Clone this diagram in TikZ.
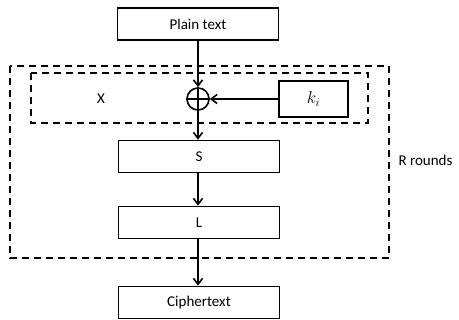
\documentclass[tikz,border=0pt]{standalone}
\usepackage{fontspec}
\setmainfont{Carlito}
\usetikzlibrary{arrows.meta}
\begin{document}
\begin{tikzpicture}[x=1pt,y=-1pt,
  blk/.style={draw,line width=1.6pt,minimum width=161pt,minimum height=32pt,inner sep=0pt,font=\fontsize{15}{18}\selectfont},
  dbox/.style={draw,line width=1.6pt,dash pattern=on 7pt off 5pt},
  arr/.style={line width=1.6pt,-{Straight Barb[length=6pt,width=9pt]}},
  lbl/.style={font=\fontsize{15}{18}\selectfont}]
\useasboundingbox (0,0) rectangle (459,320);
\node[blk] (pt) at (198,24) {Plain text};
\draw[dbox] (10,66) rectangle (389,258);
\draw[dbox] (31,73) rectangle (368,123);
\node[lbl] (x) at (101,99) {X};
\node[draw,circle,line width=1.6pt,minimum size=22pt,inner sep=0pt] (xor) at (198,99) {};
\draw[line width=1.6pt] (xor.north) -- (xor.south) (xor.west) -- (xor.east);
\node[blk,minimum width=69pt,minimum height=36pt,font=\fontsize{18}{20}\selectfont] (k) at (313.5,99) {$k_i$};
\node[blk] (s) at (199,156.5) {S};
\node[blk] (l) at (199,222.5) {L};
\node[blk] (c) at (199,302.5) {Ciphertext};
\node[lbl,anchor=west] (r) at (395,160) {R rounds};
\draw[arr] (pt) -- (xor);
\draw[arr] (k) -- (xor);
\draw[arr] (xor) -- (s.north-|xor);
\draw[arr] (s.south-|xor) -- (l.north-|xor);
\draw[arr] (l.south-|xor) -- (c.north-|xor);
\end{tikzpicture}
\end{document}
